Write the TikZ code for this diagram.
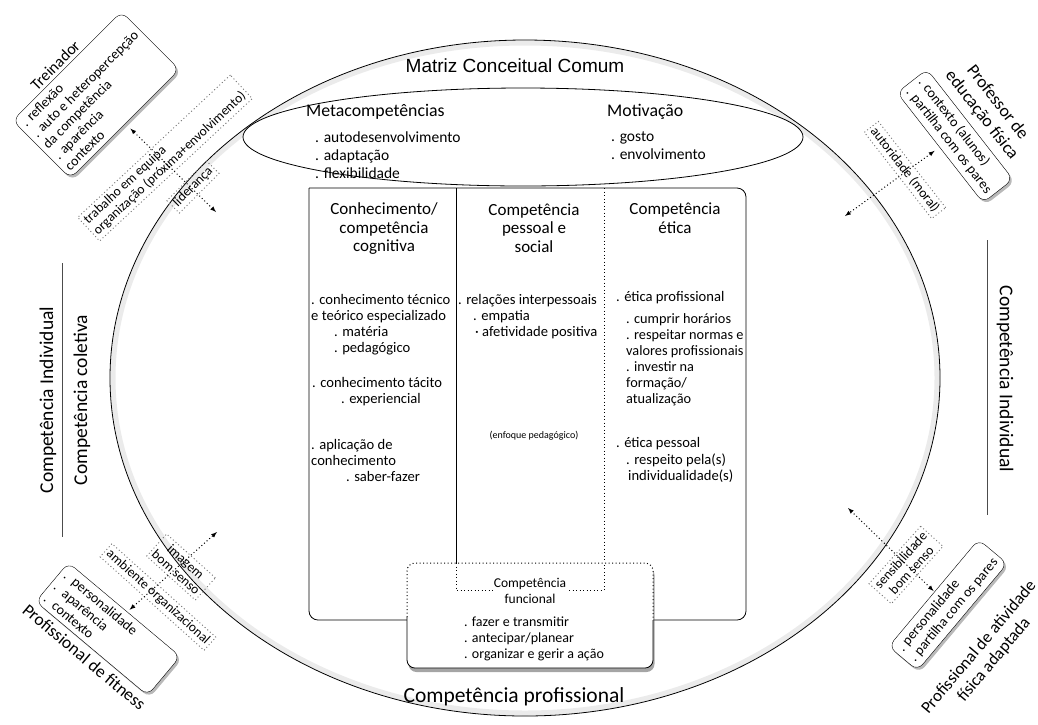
\documentclass[tikz,border=0pt]{standalone}
\usepackage{fontspec}
\setmainfont{Carlito}
\newfontfamily\arialfont{Liberation Sans}
\usetikzlibrary{shadows,calc}

\begin{document}
\begin{tikzpicture}[x=1pt,y=-1pt,
rolebox/.style={rectangle,draw,fill=white,rounded corners=8pt,align=left,inner sep=5pt,font=\fontsize{14}{15.5}\selectfont,drop shadow={shadow xshift=2pt,shadow yshift=-2.5pt,fill=black!55}},
roletitle/.style={align=center,inner sep=3pt,font=\fontsize{17.5}{20}\selectfont},
tagbox/.style={draw=black!55,dash pattern=on 1pt off 2.5pt,line width=0.9pt,align=center,inner sep=3pt,font=\fontsize{13.5}{14.5}\selectfont},
tagarrow/.style={dash pattern=on 1pt off 2.5pt,line width=1pt,latex-latex},
colhead/.style={align=center,inner sep=0pt,font=\fontsize{17}{18.5}\selectfont},
listtext/.style={anchor=west,align=left,inner sep=0pt,font=\fontsize{14.6}{16}\selectfont},
coldot/.style={dash pattern=on 1pt off 2.5pt,line width=1pt},
sidetext/.style={inner sep=0pt,font=\fontsize{19.5}{21}\selectfont}]
\useasboundingbox (0,0) rectangle (1038,724);

\draw[black!8,line width=5pt] (525,378) ellipse [x radius=412pt, y radius=335pt];
\draw[line width=0.8pt] (525,378) ellipse [x radius=415pt, y radius=338pt];
\draw[line width=0.8pt,fill=white] (523,137) ellipse [x radius=280pt, y radius=49pt];

\node[inner sep=0pt,font=\arialfont\fontsize{19}{22}\selectfont] (matriz) at (515,66) {Matriz Conceitual Comum};
\node[anchor=west,inner sep=0pt,font=\fontsize{17.8}{20}\selectfont] (metahead) at (306,112) {Metacompetências};
\node[listtext,font=\fontsize{15.5}{18}\selectfont] (metaitems) at (315,155) {. autodesenvolvimento\\. adaptação\\. flexibilidade};
\node[anchor=west,inner sep=0pt,font=\fontsize{17.8}{20}\selectfont] (motihead) at (607,112) {Motivação};
\node[listtext,font=\fontsize{15.5}{18}\selectfont] (motiitems) at (611,146) {. gosto\\. envolvimento};

\draw[line width=0.8pt,rounded corners=9pt] (309,188) -- (746,188) -- (746,620) -- (309,620) -- (309,188);
\draw[line width=0.8pt] (456,188) -- (456,563);
\draw[coldot] (604,188) -- (604,563);

\node[colhead] (cognhead) at (384,229) {Conhecimento/\\competência\\cognitiva};
\node[listtext] (cogna) at (311,324.5) {. conhecimento técnico\\e teórico especializado\\\hspace*{23pt}. matéria\\\hspace*{23pt}. pedagógico};
\node[listtext] (cognb) at (312,392) {. conhecimento tácito\\\hspace*{29pt}. experiencial};
\node[listtext] (cognc) at (311,460.5) {. aplicação de\\conhecimento\\\hspace*{35pt}. saber-fazer};

\node[colhead] (pesshead) at (534,228) {Competência\\pessoal e\\social};
\node[listtext] (pessa) at (458,316.5) {. relações interpessoais\\\hspace*{15pt}. empatia\\\hspace*{17pt}· afetividade positiva};
\node[inner sep=0pt,font=\fontsize{10}{12}\selectfont] (pessb) at (534,436) {(enfoque pedagógico)};

\node[colhead] (etichead) at (675,218) {Competência\\ética};
\node[listtext] (etica) at (616,298) {. ética profissional};
\node[listtext,font=\fontsize{14.3}{16}\selectfont] (eticb) at (626,360) {. cumprir horários\\. respeitar normas e\\valores profissionais\\. investir na\\formação/\\atualização};
\node[listtext] (eticc) at (616,444) {. ética pessoal};
\node[listtext] (eticd) at (626,468.5) {. respeito pela(s)\\\hspace*{2pt}individualidade(s)};

\node[fill=white,minimum width=246pt,minimum height=105pt,inner sep=0pt,rounded corners=8pt,drop shadow={shadow xshift=1.5pt,shadow yshift=-4pt,fill=black!70}] (func) at (530,615.5) {};
\draw[line width=0.8pt,rounded corners=8pt] (407,617) -- (407,668) -- (653,668) -- (653,620);
\draw[coldot,rounded corners=8pt] (407,617) -- (407,563) -- (653,563) -- (653,620);
\draw[coldot] (456,563) -- (456,590) -- (604,590) -- (604,563);
\node[colhead,fill=white,inner sep=1pt,font=\fontsize{13.5}{16}\selectfont] (funchead) at (530,591) {Competência\\funcional};
\node[listtext,font=\fontsize{14}{16}\selectfont] (funcitems) at (464,639) {. fazer e transmitir\\. antecipar/planear\\. organizar e gerir a ação};

\node[inner sep=0pt,font=\fontsize{21.5}{24}\selectfont] (profiss) at (514,697) {Competência profissional};

\draw[black!70,line width=0.8pt] (62,263) -- (62,537);
\node[sidetext,rotate=90] (indleft) at (48,400) {Competência Individual};
\node[sidetext,rotate=90] (coletiva) at (82,400) {Competência coletiva};
\draw[black!70,line width=0.8pt] (987,240) -- (987,515);
\node[sidetext,rotate=-90] (indright) at (1005,379) {Competência Individual};

\node[rolebox,rotate=45] (treinbox) at (96,95) {. reflexão\\. auto e heteropercepção\\da competência\\. aparência\\contexto};
\node[roletitle,rotate=45,anchor=south,font=\fontsize{16}{18}\selectfont] (treintitle) at ($(treinbox.north west)!0.45!(treinbox.north east)$) {Treinador};
\node[tagbox,rotate=43,align=left] (treintag) at (165,158) {trabalho em equipa\\organização (próxima+envolvimento)};
\node[tagbox,rotate=45] (lidertag) at (193,187) {liderança};
\coordinate (treinin) at (216,212);
\draw[tagarrow,shorten <=7pt] (treinbox) -- (treinin);

\node[rolebox,rotate=-52] (profbox) at (955,136) {. contexto (alunos)\\. partilha com os pares};
\node[roletitle,rotate=-52,anchor=south,outer sep=4pt] (proftitle) at (profbox.north) {Professor de\\educação física};
\node[tagbox,rotate=-52] (proftag) at (905,170) {autoridade (moral)};
\coordinate (profin) at (845,216);
\draw[tagarrow,shorten <=6pt] (profbox) -- (profin);

\node[rolebox,rotate=-40,text width=136pt] (fitbox) at (108,629) {. personalidade\\. aparência\\. contexto};
\node[roletitle,rotate=-40,anchor=north,outer sep=2pt] (fittitle) at (fitbox.south) {Profissional de fitness};
\node[tagbox,rotate=-42] (fittag) at (181,567) {imagem\\bom senso};
\node[tagbox,rotate=-42] (ambtag) at (158,597) {ambiente organizacional};
\coordinate (fitin) at (217,532);
\draw[tagarrow,shorten <=3pt] (fitbox) -- (fitin);

\node[rolebox,rotate=50] (adapbox) at (948,605) {. personalidade\\. partilha com os pares};
\node[roletitle,rotate=50,anchor=north,outer sep=22pt,font=\fontsize{17}{19.5}\selectfont] (adaptitle) at ($(adapbox.south west)!0.41!(adapbox.south east)$) {Profissional de atividade\\física adaptada};
\node[tagbox,rotate=48] (adaptag) at (906,565) {sensibilidade\\bom senso};
\coordinate (adapin) at (848,508);
\draw[tagarrow,shorten <=1pt] (adapbox) -- (adapin);
\end{tikzpicture}
\end{document}
